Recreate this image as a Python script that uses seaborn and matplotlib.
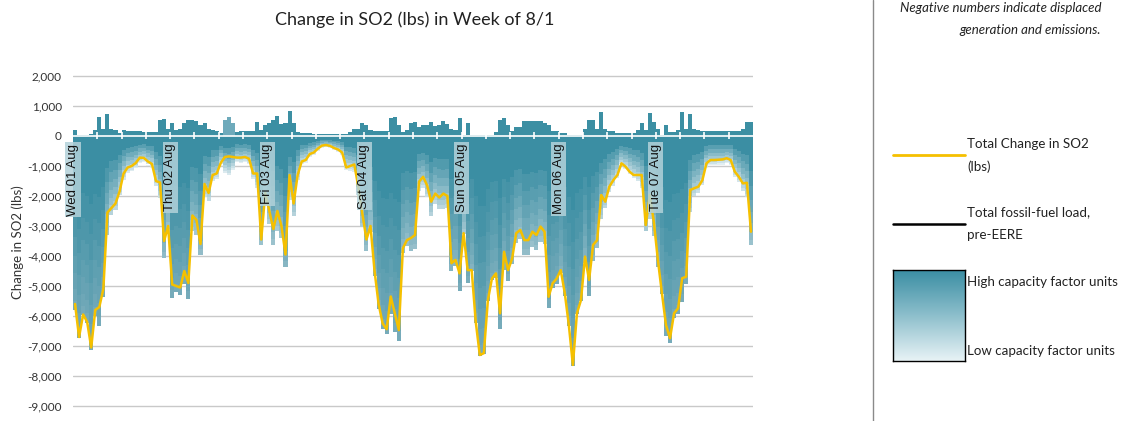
import numpy as np
import matplotlib
matplotlib.use("Agg")
import matplotlib.pyplot as plt
import matplotlib.colors as mcolors
from matplotlib.lines import Line2D
import seaborn as sns

# hourly values, Wed 01 Aug 00:00 .. Tue 07 Aug 23:00
hours = list(range(168))
net_change = [
    -5600, -6700, -5950, -6200, -7050, -5800, -5700, -5100, -2550, -2400, -2250, -1850,
    -1250, -1050, -1000, -900, -720, -730, -850, -930, -1500, -1550, -3500, -3000,
    -4950, -5000, -5050, -4500, -4900, -2650, -2800, -3600, -1600, -1900, -1300, -1250,
    -900, -700, -680, -700, -720, -720, -700, -760, -1250, -1250, -3450, -1900,
    -2500, -3100, -2500, -3000, -3950, -1300, -2250, -1300, -850, -800, -600, -550,
    -420, -320, -300, -330, -400, -450, -550, -1050, -1000, -950, -1700, -2600,
    -3450, -3000, -4500, -5600, -6250, -6440, -5350, -5910, -6470, -3740, -3470, -3400,
    -3300, -1520, -1360, -1650, -2190, -1920, -2050, -1920, -2000, -4240, -4130, -4580,
    -3240, -4470, -4470, -6190, -7300, -7240, -5470, -4750, -4580, -5910, -3860, -4470,
    -4080, -3240, -3130, -3470, -3470, -3190, -3300, -3020, -3190, -5360, -4910, -4750,
    -4470, -5240, -6300, -7630, -5910, -5470, -4020, -4800, -3630, -3470, -1970, -2190,
    -1690, -1470, -1300, -910, -1020, -1190, -1300, -1300, -1300, -2970, -1970, -2860,
    -4130, -5240, -6300, -6740, -5910, -5740, -4740, -4690, -1800, -1740, -1690, -1470,
    -910, -800, -800, -790, -780, -740, -800, -1190, -1360, -1580, -1560, -3190,
]
positive = [
    200, 20, 20, 20, 70, 200, 640, 250, 750, 220, 200, 110,
    200, 180, 180, 180, 180, 150, 150, 150, 150, 530, 560, 250,
    440, 200, 250, 420, 530, 530, 510, 370, 440, 250, 200, 180,
    100, 530, 620, 440, 150, 180, 180, 180, 180, 480, 200, 370,
    420, 530, 670, 400, 420, 840, 420, 150, 90, 90, 90, 70,
    70, 70, 70, 70, 70, 70, 70, 70, 150, 250, 250, 440,
    370, 200, 170, 170, 170, 170, 590, 640, 370, 150, 200, 440,
    480, 310, 370, 370, 480, 330, 370, 510, 400, 250, 200, 590,
    30, 440, 30, 30, 20, 20, 30, 50, 150, 530, 590, 370,
    170, 310, 310, 510, 510, 510, 510, 500, 420, 370, 170, 170,
    90, 90, 30, 30, 30, 30, 220, 530, 530, 250, 810, 220,
    180, 180, 90, 90, 90, 90, 110, 200, 440, 200, 780, 480,
    250, 30, 370, 150, 150, 200, 810, 250, 720, 250, 200, 170,
    170, 170, 170, 170, 170, 170, 170, 170, 170, 250, 460, 460,
]
pos_light_hours = [37, 38, 39]
day_labels = ["Wed 01 Aug", "Thu 02 Aug", "Fri 03 Aug", "Sat 04 Aug",
              "Sun 05 Aug", "Mon 06 Aug", "Tue 07 Aug"]
yticks = list(range(-9000, 2001, 1000))

DARK = np.array(mcolors.to_rgb("#3b8ea3"))
MID = np.array(mcolors.to_rgb("#76abba"))
PALE = np.array(mcolors.to_rgb("#e2eef2"))
YELLOW = "#f5c000"

sns.set_theme(style="white")
plt.rcParams['font.family'] = ['Lato', 'DejaVu Sans']

fig = plt.figure(figsize=(11.23, 4.21), dpi=100)
ax = fig.add_axes([73 / 1123, 1 - 409 / 421, 680 / 1123, 336 / 421])

net = np.array(net_change, dtype=float)
pos = np.array(positive, dtype=float)
neg = net - pos
depth = -neg

# gradient inside each negative bar: dark near zero, paler toward the bottom
edges = [0, .32, .46, .58, .69, .79, .88, .95, 1.0]
s = np.clip((depth - 1000) / 4000, 0, 1)[:, None]
light_end = PALE * (1 - s) + MID * s
nseg = len(edges) - 1
for k in range(nseg):
    t = (k / (nseg - 1)) ** 0.9
    cols = DARK * (1 - t) + light_end * t
    ax.bar(hours, neg * (edges[k + 1] - edges[k]), bottom=neg * edges[k],
           width=1.0, color=[tuple(c) for c in cols], linewidth=0,
           antialiased=False, zorder=3)

pos_cols = ["#6eaabb" if h in pos_light_hours else "#3c8fa3" for h in hours]
ax.bar(hours, pos, width=1.0, color=pos_cols, linewidth=0, antialiased=False, zorder=3)

sns.lineplot(x=hours, y=net_change, ax=ax, color=YELLOW, lw=1.8, zorder=6)

for yv in yticks:
    ax.axhline(yv, color="#c9c9c9", lw=1, zorder=1)
ax.axhline(0, color="white", lw=1.2, zorder=5)
ax.vlines([6 * k - 0.5 for k in range(1, 28)], -110, 130, color="white", lw=1.2, zorder=5)

for d, lab in enumerate(day_labels):
    ax.text(24 * d - 0.5, -260, lab, rotation=90, ha="center", va="top",
            fontsize=9.5, family="Liberation Sans", color="#111", zorder=7,
            bbox=dict(boxstyle="square,pad=0.12", fc="#b3d2da", ec="none", alpha=0.85))

ax.set_xlim(-0.5, 167.5)
ax.set_ylim(-9100, 2100)
ax.set_yticks(yticks)
ax.set_yticklabels([f"{v:,}" for v in yticks], fontsize=8.5, color="#333")
ax.set_xticks([])
ax.tick_params(axis="y", length=0, pad=8)
sns.despine(ax=ax, left=True, bottom=True)
ax.set_xlabel("")
ax.set_ylabel("")

fig.text(415 / 1123, 1 - 20 / 421, "Change in SO2 (lbs) in Week of 8/1",
         ha="center", va="center", fontsize=13, color="#222")
fig.text(18 / 1123, 1 - 242 / 421, "Change in SO2 (lbs)", rotation=90,
         ha="center", va="center", fontsize=9.5, color="#333")

# right-hand panel
fig.add_artist(Line2D([873 / 1123] * 2, [0, 1], color="#8a8a8a", lw=1))
fig.text(1102 / 1123, 1 - 8 / 421, "Negative numbers indicate displaced",
         ha="right", va="center", fontsize=9.5, style="italic", color="#222")
fig.text(1101 / 1123, 1 - 30 / 421, "generation and emissions.",
         ha="right", va="center", fontsize=9.5, style="italic", color="#222")

fig.add_artist(Line2D([893 / 1123, 965 / 1123], [1 - 155 / 421] * 2, color=YELLOW, lw=2))
fig.add_artist(Line2D([893 / 1123, 965 / 1123], [1 - 224 / 421] * 2, color="black", lw=1.8))
legend_text = [("Total Change in SO2", 144), ("(lbs)", 167),
               ("Total fossil-fuel load,", 212), ("pre-EERE", 235),
               ("High capacity factor units", 282), ("Low capacity factor units", 351)]
for txt, yp in legend_text:
    fig.text(967 / 1123, 1 - yp / 421, txt, ha="left", va="center", fontsize=9.6, color="#222")

gax = fig.add_axes([893 / 1123, 1 - 361 / 421, 72 / 1123, 91 / 421])
grad = np.linspace(0, 1, 256)[:, None]
gcmap = mcolors.LinearSegmentedColormap.from_list("g", ["#3b8ea3", "#8dbfcc", "#e8f3f6"])
gax.imshow(grad, aspect="auto", cmap=gcmap, extent=[0, 1, 1, 0])
gax.set_xticks([])
gax.set_yticks([])
for sp in gax.spines.values():
    sp.set_visible(True)
    sp.set_color("black")
    sp.set_linewidth(1)

fig.savefig("out.png", dpi=100)
